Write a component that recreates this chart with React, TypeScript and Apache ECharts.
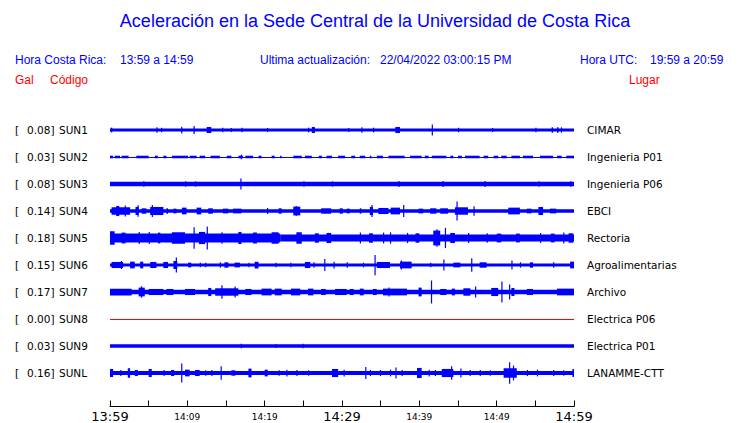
import React, { useEffect, useRef } from "react";
import * as echarts from "echarts";

// Station metadata
const PEAKS = ["0.08", "0.03", "0.08", "0.14", "0.18", "0.15", "0.17", "0.00", "0.03", "0.16"];
const CODES = ["SUN1", "SUN2", "SUN3", "SUN4", "SUN5", "SUN6", "SUN7", "SUN8", "SUN9", "SUNL"];
const PLACES = [
  "CIMAR", "Ingenieria P01", "Ingenieria P06", "EBCI", "Rectoria",
  "Agroalimentarias", "Archivo", "Electrica P06", "Electrica P01", "LANAMME-CTT",
];
const TRACE_COLORS = ["#0000ff", "#0000ff", "#0000ff", "#0000ff", "#0000ff", "#0000ff", "#0000ff", "#ff0000", "#0000ff", "#0000ff"];
// time axis labels every 10 minutes (minutes after 13:59)
const TICK_LABELS = ["13:59", "14:09", "14:19", "14:29", "14:39", "14:49", "14:59"];

// Envelope segments per station: [startMinute, endMinute, amplitude (Gal)]
const SUN1 = [
  [0, 60, 0.022], [0.1, 0.3, 0.035], [6.0, 6.15, 0.04], [6.6, 6.75, 0.035], [9.2, 9.35, 0.05],
  [10.8, 10.95, 0.06], [12.5, 13.1, 0.045], [14.5, 14.65, 0.035], [15.6, 15.75, 0.03],
  [17.0, 17.15, 0.035], [20.3, 20.45, 0.03], [25.6, 25.75, 0.035], [26.1, 26.5, 0.045],
  [30.8, 30.95, 0.03], [32.5, 32.65, 0.04], [34.0, 34.15, 0.035], [36.9, 37.5, 0.045],
  [41.6, 41.75, 0.08], [45.0, 45.15, 0.035], [49.4, 49.55, 0.03], [55.0, 55.15, 0.035],
  [57.1, 57.3, 0.04], [57.8, 58.0, 0.04], [58.3, 58.45, 0.04],
];
const SUN2 = [
  [0, 60, 0.007],
  [0, 0.4, 0.019], [0.6, 1.3, 0.019], [1.5, 2.4, 0.019], [3.4, 5.0, 0.019], [5.8, 6.2, 0.019],
  [6.9, 7.3, 0.019], [8.0, 10.1, 0.019], [10.3, 11.2, 0.019], [11.6, 12.3, 0.019], [13.0, 14.2, 0.019],
  [15.1, 15.7, 0.019], [16.6, 17.2, 0.019], [17.5, 18.5, 0.019], [19.2, 19.6, 0.019], [20.9, 21.3, 0.019],
  [22.0, 22.2, 0.019], [23.7, 24.8, 0.019], [25.2, 26.1, 0.019], [27.0, 27.4, 0.019], [28.0, 28.7, 0.019],
  [29.5, 30.4, 0.019], [31.2, 31.7, 0.019], [32.3, 33.0, 0.019], [33.6, 33.8, 0.019], [34.5, 35.3, 0.019],
  [36.0, 38.1, 0.019], [38.8, 40.3, 0.019], [40.7, 41.2, 0.019], [41.6, 43.5, 0.019], [44.0, 44.4, 0.019],
  [45.0, 45.5, 0.019], [45.9, 47.8, 0.019], [48.3, 48.9, 0.019], [49.6, 50.2, 0.019], [50.6, 51.3, 0.019],
  [51.9, 53.0, 0.019], [53.4, 54.7, 0.019], [55.6, 57.3, 0.019], [57.8, 58.4, 0.019], [59.0, 60.0, 0.019],
  [16.9, 17.05, 0.035],
];
const SUN3 = [
  [0, 60, 0.033], [4.3, 4.45, 0.04], [9.7, 9.85, 0.04], [11.0, 11.15, 0.04], [16.85, 17.0, 0.08],
  [25.0, 25.15, 0.04], [28.7, 28.85, 0.04], [37.3, 37.45, 0.045], [43.0, 43.15, 0.045],
  [48.4, 48.55, 0.045], [55.4, 55.55, 0.04], [59.5, 59.65, 0.04],
];
const SUN4 = [
  [0, 60, 0.025], [0.2, 2.6, 0.055], [0.8, 1.2, 0.075], [1.9, 2.05, 0.08], [3.3, 3.7, 0.06],
  [3.55, 3.7, 0.085], [4.1, 4.7, 0.04], [5.2, 6.9, 0.06], [5.4, 5.55, 0.09], [7.3, 7.5, 0.04],
  [8.2, 8.6, 0.035], [9.3, 9.9, 0.05], [11.2, 11.8, 0.05], [12.7, 13.3, 0.04], [14.6, 15.3, 0.035],
  [15.9, 17.0, 0.035], [20.3, 20.45, 0.045], [21.8, 22.2, 0.04], [23.7, 24.6, 0.065], [24.0, 24.15, 0.075],
  [27.3, 28.6, 0.04], [29.7, 30.1, 0.04], [30.6, 31.0, 0.035], [32.3, 32.5, 0.04], [33.6, 34.0, 0.06],
  [33.8, 33.95, 0.09], [34.7, 36.0, 0.045], [36.3, 37.5, 0.05], [37.9, 38.05, 0.09], [39.9, 40.5, 0.035],
  [41.4, 42.2, 0.04], [42.7, 43.7, 0.04], [44.6, 46.3, 0.055], [44.8, 44.95, 0.14], [47.0, 47.15, 0.07],
  [51.5, 53.0, 0.05], [53.9, 54.5, 0.035], [55.4, 56.0, 0.06], [56.9, 57.7, 0.035],
];
const SUN5 = [
  [0, 22, 0.065], [22, 60, 0.052], [0, 0.6, 0.1], [1.5, 2.0, 0.08], [3.7, 3.85, 0.09], [5.0, 5.15, 0.09],
  [6.2, 6.5, 0.08], [8.0, 9.7, 0.085], [10.8, 10.95, 0.16], [11.5, 12.3, 0.09], [12.5, 12.65, 0.17],
  [14.4, 14.55, 0.085], [16.6, 17.0, 0.09], [18.5, 19.0, 0.08], [20.9, 21.8, 0.085], [24.1, 24.8, 0.085],
  [26.5, 27.0, 0.07], [28.0, 28.6, 0.075], [32.3, 32.45, 0.08], [33.5, 34.0, 0.07], [35.3, 35.45, 0.08],
  [36.2, 36.35, 0.085], [38.4, 38.55, 0.075], [39.5, 40.0, 0.07], [41.8, 42.7, 0.11], [42.2, 42.35, 0.13],
  [43.3, 43.45, 0.15], [44.0, 44.6, 0.075], [46.3, 46.45, 0.075], [48.7, 48.85, 0.07], [50.0, 50.6, 0.065],
  [52.5, 53.0, 0.065], [55.6, 55.75, 0.075], [57.0, 57.5, 0.065], [58.6, 58.75, 0.08], [59.3, 59.9, 0.07],
];
const SUN6 = [
  [0, 60, 0.022], [0.2, 1.7, 0.045], [1.4, 1.55, 0.06], [2.6, 3.2, 0.05], [3.9, 4.3, 0.05], [5.2, 6.0, 0.045],
  [6.9, 7.5, 0.045], [8.2, 8.7, 0.06], [8.5, 8.65, 0.11], [10.1, 10.5, 0.035], [11.6, 11.75, 0.035],
  [12.3, 12.45, 0.035], [14.2, 14.35, 0.04], [14.8, 15.3, 0.04], [16.1, 16.8, 0.035], [17.9, 18.05, 0.035],
  [18.7, 19.2, 0.05], [21.4, 21.55, 0.035], [23.3, 23.45, 0.035], [25.2, 25.9, 0.045], [26.3, 26.45, 0.04],
  [27.7, 27.85, 0.09], [28.9, 29.05, 0.05], [30.6, 30.75, 0.04], [32.7, 32.85, 0.035], [34.2, 34.35, 0.15],
  [34.5, 36.2, 0.045], [37.5, 39.0, 0.05], [37.6, 37.75, 0.065], [41.4, 41.55, 0.035], [43.1, 43.25, 0.08],
  [44.4, 45.3, 0.035], [46.7, 46.85, 0.1], [47.8, 48.7, 0.04], [51.9, 52.05, 0.065], [53.0, 53.15, 0.04],
  [54.3, 54.7, 0.04], [57.3, 57.45, 0.04], [59.5, 60, 0.05],
];
const SUN7 = [
  [0, 60, 0.033], [0, 2.8, 0.05], [3.7, 4.5, 0.065], [4.0, 4.15, 0.085], [5.0, 6.9, 0.045], [7.3, 8.2, 0.045],
  [9.7, 11.0, 0.045], [12.7, 13.1, 0.06], [13.6, 16.6, 0.055], [14.4, 14.55, 0.1], [16.1, 16.25, 0.08],
  [17.5, 18.3, 0.045], [19.6, 20.9, 0.05], [21.3, 22.2, 0.05], [23.4, 24.6, 0.05], [25.6, 26.3, 0.05],
  [27.3, 27.9, 0.045], [29.1, 30.6, 0.045], [31.0, 31.5, 0.045], [32.3, 32.8, 0.05], [34.0, 34.5, 0.045],
  [35.3, 38.4, 0.05], [36.0, 36.15, 0.065], [39.9, 40.3, 0.065], [41.5, 41.65, 0.17], [42.7, 43.5, 0.045],
  [44.2, 44.6, 0.05], [45.7, 46.6, 0.055], [47.2, 47.35, 0.08], [49.3, 50.2, 0.06], [50.6, 50.75, 0.155],
  [51.6, 51.75, 0.11], [51.9, 52.3, 0.06], [53.9, 54.7, 0.045], [57.8, 60, 0.05],
];
const SUN8 = [[0, 60, 0]];
const SUN9 = [[0, 60, 0.025], [16.9, 17.05, 0.035], [21.4, 21.5, 0.03], [24.9, 25.05, 0.035]];
const SUNL = [
  [0, 60, 0.03], [0, 0.4, 0.06], [1.3, 1.5, 0.04], [2.3, 2.6, 0.07], [3.2, 3.6, 0.045], [5.0, 5.4, 0.06],
  [6.9, 7.1, 0.04], [7.9, 8.3, 0.045], [9.2, 9.35, 0.14], [9.7, 10.3, 0.05], [11.0, 11.6, 0.045],
  [12.3, 12.45, 0.04], [13.1, 13.25, 0.045], [14.3, 14.45, 0.1], [15.7, 16.2, 0.04], [17.9, 18.3, 0.065],
  [20.0, 20.4, 0.05], [21.8, 21.95, 0.04], [22.8, 22.95, 0.05], [24.1, 24.25, 0.045], [25.6, 25.75, 0.04],
  [28.7, 29.5, 0.06], [30.2, 30.35, 0.05], [33.0, 33.15, 0.09], [33.6, 33.75, 0.045], [34.9, 35.05, 0.045],
  [36.2, 36.35, 0.05], [36.9, 37.05, 0.08], [37.7, 37.85, 0.045], [39.7, 40.3, 0.075], [41.2, 41.35, 0.05],
  [42.0, 42.15, 0.045], [42.9, 44.4, 0.06], [44.1, 44.25, 0.1], [45.3, 45.45, 0.065], [46.5, 46.65, 0.045],
  [47.8, 47.95, 0.045], [49.1, 49.25, 0.04], [50.9, 52.6, 0.07], [51.6, 51.75, 0.16], [52.1, 52.25, 0.11],
  [53.9, 54.05, 0.045], [55.2, 55.35, 0.05], [57.3, 57.45, 0.045], [58.6, 58.75, 0.04], [59.8, 60, 0.06],
];
const TRACES = [SUN1, SUN2, SUN3, SUN4, SUN5, SUN6, SUN7, SUN8, SUN9, SUNL];

const PLOT_LEFT = 110;
const PLOT_WIDTH = 464;
const FIRST_CENTER = 130;
const ROW = 27;
const AXIS_Y = 409;

export default function App() {
  const ref = useRef<HTMLDivElement>(null);
  useEffect(() => {
    if (!ref.current) return;
    const chart = echarts.init(ref.current, null, { renderer: "svg" });

    const grids: any[] = [];
    const xAxes: any[] = [];
    const yAxes: any[] = [];
    const series: any[] = [];
    TRACES.forEach((trace, i) => {
      const center = FIRST_CENTER + ROW * i;
      grids.push({ left: PLOT_LEFT, width: PLOT_WIDTH, top: center - ROW / 2, height: ROW });
      xAxes.push({ type: "value", gridIndex: i, min: 0, max: 60, show: false });
      yAxes.push({ type: "value", gridIndex: i, min: -0.2, max: 0.2, show: false });
      const color = TRACE_COLORS[i];
      series.push({
        type: "custom",
        xAxisIndex: i,
        yAxisIndex: i,
        encode: { x: [0, 1], y: 2 },
        data: trace,
        clip: false,
        renderItem: (params: any, api: any) => {
          const a = api.value(2);
          const p1 = api.coord([api.value(0), a]);
          const p2 = api.coord([api.value(1), -a]);
          let h = p2[1] - p1[1];
          let y = p1[1];
          if (h < 1) {
            y = Math.floor((p1[1] + p2[1]) / 2);
            h = 1;
          }
          return {
            type: "rect",
            shape: { x: p1[0], y, width: Math.max(p2[0] - p1[0], 1.2), height: h },
            style: { fill: color },
          };
        },
      });
    });

    // time axis
    const ai = TRACES.length;
    grids.push({ left: PLOT_LEFT, width: PLOT_WIDTH, top: AXIS_Y - 20, height: 20 });
    xAxes.push({
      type: "value",
      gridIndex: ai,
      min: 0,
      max: 60,
      interval: 5,
      axisLine: { show: true, lineStyle: { color: "#000", width: 1 } },
      axisTick: { show: true, inside: true, length: 6, lineStyle: { color: "#000", width: 1 } },
      splitLine: { show: false },
      axisLabel: {
        show: true,
        margin: 2,
        color: "#000",
        showMinLabel: true,
        showMaxLabel: true,
        formatter: (v: number) => {
          if (v % 10 !== 0) return "";
          const lab = TICK_LABELS[v / 10];
          return v % 30 === 0 ? `{big|${lab}}` : `{small|${lab}}`;
        },
        rich: {
          big: { fontSize: 13, fontFamily: "DejaVu Sans", color: "#000", lineHeight: 16, padding: [0, 0, 0, 0] },
          small: { fontSize: 9, fontFamily: "DejaVu Sans", color: "#000", lineHeight: 14, padding: [2, 0, 0, 0] },
        },
      },
    });
    yAxes.push({ type: "value", gridIndex: ai, show: false, min: 0, max: 1 });

    const blue = "#0000ff";
    const red = "#ff0000";
    const hdrFont = "Liberation Sans, Arial, sans-serif";
    const graphic: any[] = [
      {
        type: "text", x: 375, y: 21,
        style: { text: "Aceleración en la Sede Central de la Universidad de Costa Rica", fill: blue, font: `18px ${hdrFont}`, align: "center", verticalAlign: "middle" },
      },
      { type: "text", x: 15, y: 60, style: { text: "Hora Costa Rica:", fill: blue, font: `12px ${hdrFont}`, verticalAlign: "middle" } },
      { type: "text", x: 120, y: 60, style: { text: "13:59 a 14:59", fill: blue, font: `12px ${hdrFont}`, verticalAlign: "middle" } },
      { type: "text", x: 260, y: 60, style: { text: "Ultima actualización:", fill: blue, font: `12px ${hdrFont}`, verticalAlign: "middle" } },
      { type: "text", x: 380, y: 60, style: { text: "22/04/2022 03:00:15 PM", fill: blue, font: `12px ${hdrFont}`, verticalAlign: "middle" } },
      { type: "text", x: 580, y: 60, style: { text: "Hora UTC:", fill: blue, font: `12px ${hdrFont}`, verticalAlign: "middle" } },
      { type: "text", x: 650, y: 60, style: { text: "19:59 a 20:59", fill: blue, font: `12px ${hdrFont}`, verticalAlign: "middle" } },
      { type: "text", x: 15, y: 80, style: { text: "Gal", fill: red, font: `12px ${hdrFont}`, verticalAlign: "middle" } },
      { type: "text", x: 50, y: 80, style: { text: "Código", fill: red, font: `12px ${hdrFont}`, verticalAlign: "middle" } },
      { type: "text", x: 629, y: 80, style: { text: "Lugar", fill: red, font: `12px ${hdrFont}`, verticalAlign: "middle" } },
    ];
    const lblFont = "10.5px DejaVu Sans, sans-serif";
    CODES.forEach((code, i) => {
      const y = FIRST_CENTER + ROW * i;
      graphic.push(
        { type: "text", x: 15, y, style: { text: "[", fill: "#000", font: lblFont, verticalAlign: "middle" } },
        { type: "text", x: 27, y, style: { text: `${PEAKS[i]}]`, fill: "#000", font: lblFont, verticalAlign: "middle" } },
        { type: "text", x: 59, y, style: { text: code, fill: "#000", font: lblFont, verticalAlign: "middle" } },
        { type: "text", x: 587, y, style: { text: PLACES[i], fill: "#000", font: lblFont, verticalAlign: "middle" } },
      );
    });

    chart.setOption({
      animation: false,
      backgroundColor: "#ffffff",
      grid: grids,
      xAxis: xAxes,
      yAxis: yAxes,
      series,
      graphic,
    });
    return () => chart.dispose();
  }, []);

  return (
    <div
      ref={ref}
      style={{ position: "fixed", left: 0, top: 0, width: 740, height: 423, background: "#fff" }}
    />
  );
}
